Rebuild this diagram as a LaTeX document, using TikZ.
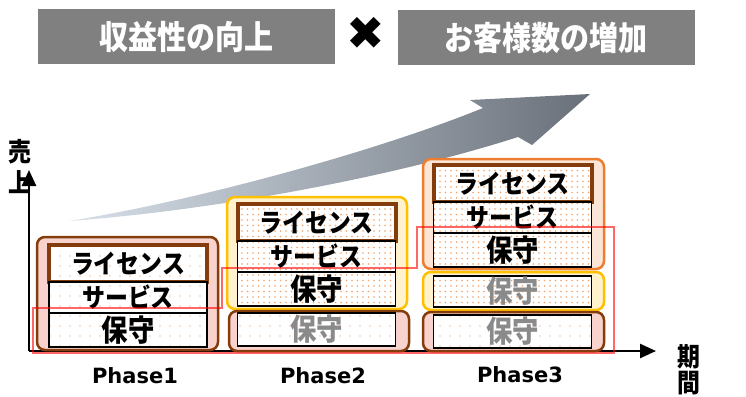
\documentclass[tikz,border=0pt]{standalone}
\usepackage{fontspec}
\setmainfont{DejaVu Sans}
\newfontfamily\jp{Noto Sans CJK JP}[FakeStretch=0.88]
\usetikzlibrary{positioning,arrows.meta,patterns.meta}
\definecolor{hdrgray}{HTML}{808080}
\definecolor{brn}{HTML}{843C0C}
\definecolor{pnk}{HTML}{F8D2CC}
\definecolor{ylwfill}{HTML}{FFF2CC}
\definecolor{ylwline}{HTML}{FFC000}
\definecolor{orgfill}{HTML}{FBE5D6}
\definecolor{orgline}{HTML}{ED7D31}
\definecolor{dotor}{HTML}{F4A46C}
\definecolor{oldgray}{HTML}{8A8A8A}
\definecolor{swl}{HTML}{D8E0EA}
\definecolor{swr}{HTML}{69707A}

\begin{document}
\begin{tikzpicture}[x=1pt,y=-1pt,
    hdr/.style={fill=hdrgray, text=white, inner sep=0, minimum width=297pt, minimum height=55pt,
      font=\jp\bfseries\fontsize{33}{33}\selectfont},
    item/.style={draw, line width=1.3pt, outer sep=0, inner sep=0, minimum width=158pt,
      preaction={fill=white}, font=\jp\bfseries\fontsize{26}{26}\selectfont},
    lic/.style={item, draw=brn, line width=4pt, minimum height=37pt},
    srv/.style={item, minimum height=31pt},
    hs/.style={item, minimum height=34pt, font=\jp\bfseries\fontsize{30}{30}\selectfont},
    old/.style={hs, text=oldgray, minimum height=33pt},
    dense/.style={pattern={Dots[distance=5.5pt,radius=0.9pt]}, pattern color=dotor},
    sparse/.style={pattern={Dots[distance=10pt,radius=0.9pt]}, pattern color=dotor!60},
    grp/.style={rounded corners=8pt, line width=2.5pt},
    grpb/.style={grp, draw=brn, fill=pnk},
    grpy/.style={grp, draw=ylwline, fill=ylwfill},
    grpo/.style={grp, draw=orgline, fill=orgfill},
    axis/.style={line width=2.5pt, -{Triangle[length=16pt,width=14pt]}},
    axlbl/.style={font=\jp\bfseries\fontsize{26}{26}\selectfont, inner sep=0},
    phase/.style={font=\bfseries\fontsize{21}{21}\selectfont, inner sep=0},
  ]
\useasboundingbox (0,0) rectangle (746,396);

% headline
\node[hdr] (gain) at (186.5,36.5) {収益性の向上};
\node[hdr] (cust) at (546,37.5) {お客様数の増加};
\node[font=\fontsize{46}{46}\selectfont, inner sep=0] (times) at (366,33) {✖};

% growth arrow
\shade[left color=swl, right color=swr]
  (69,221) .. controls (200,200) and (380,150) .. (483,108)
  -- (470,100) -- (590,94) -- (532,145) -- (518,137)
  .. controls (400,175) and (220,210) .. (69,221) -- cycle;

% axes
\coordinate (o) at (29,351);
\coordinate (ytop) at (29,170);
\coordinate (xend) at (656,351);
\draw[axis] (o) -- (ytop);
\draw[axis] (o) -- (xend);
\node[axlbl] (uri) at (20,152) {売};
\node[axlbl] (age) at (20,182) {上};
\node[axlbl] (ki) at (689,357) {期};
\node[axlbl] (kan) at (689,383) {間};

% group frames
\draw[grpb] (37,237) rectangle (218,350);
\draw[grpy] (227,197) rectangle (407,309);
\draw[grpb] (229,311) rectangle (409,351);
\draw[grpo] (423,159) rectangle (604,269);
\draw[grpy] (423,272) rectangle (604,310);
\draw[grpb] (423,312) rectangle (604,351);

% Phase1
\node[lic, sparse] (lic1) at (128,263.5) {ライセンス};
\node[srv, sparse, below=0pt of lic1] (srv1) {サービス};
\node[hs, sparse, below=0pt of srv1] (hs1) {保守};

% Phase2
\node[lic, dense] (lic2) at (316.5,222.5) {ライセンス};
\node[srv, dense, below=0pt of lic2] (srv2) {サービス};
\node[hs, dense, below=0pt of srv2] (hs2) {保守};
\node[old, sparse] (old2) at (316.5,329.5) {保守};

% Phase3
\node[lic, dense] (lic3) at (512.5,183.5) {ライセンス};
\node[srv, dense, below=0pt of lic3] (srv3) {サービス};
\node[hs, dense, below=0pt of srv3] (hs3) {保守};
\node[old, dense, minimum height=31pt] (mid3) at (512.5,291.5) {保守};
\node[old, sparse] (old3) at (512.5,331.5) {保守};

\node[phase] (p1) at (135,376) {Phase1};
\node[phase] (p2) at (323,376) {Phase2};
\node[phase] (p3) at (520,375) {Phase3};

% highlighted steps
\draw[red, opacity=0.6, line width=1.2pt]
  (33,353) -- (33,308) -- (222,308) -- (222,268) -- (417,268)
  -- (417,227) -- (614,227) -- (614,353) -- cycle;
\end{tikzpicture}
\end{document}
